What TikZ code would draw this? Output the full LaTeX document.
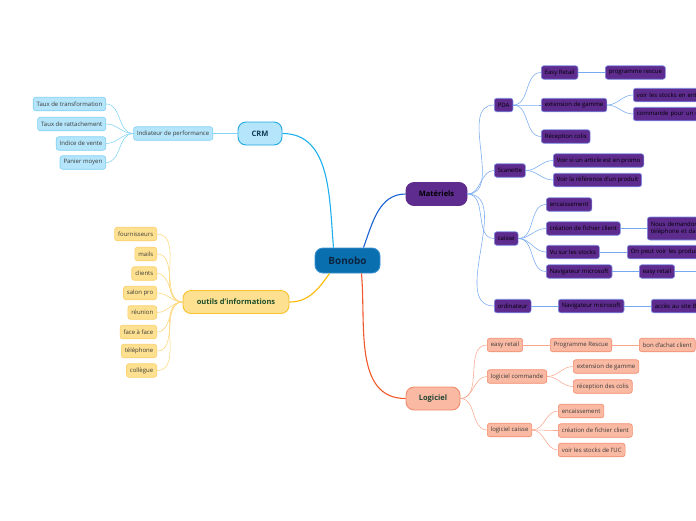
\documentclass[tikz,border=0pt]{standalone}
\usepackage{fontspec}
\setmainfont{Open Sans}
\usetikzlibrary{positioning}

\definecolor{rootfill}{HTML}{0A6FAE}
\definecolor{rootline}{HTML}{3A8FD0}
\definecolor{rootink}{HTML}{0B2540}
\definecolor{matfill}{HTML}{5E2B8E}
\definecolor{matline}{HTML}{7C8FE6}
\definecolor{matedge}{HTML}{1A62D2}
\definecolor{matsub}{HTML}{76AAF0}
\definecolor{logfill}{HTML}{F9B9A3}
\definecolor{logline}{HTML}{F28B6C}
\definecolor{logedge}{HTML}{F2592A}
\definecolor{logsub}{HTML}{F9A88E}
\definecolor{logink}{HTML}{1F4533}
\definecolor{crmfill}{HTML}{B5E5FA}
\definecolor{crmline}{HTML}{1CA9E2}
\definecolor{crmleafline}{HTML}{80D0F5}
\definecolor{crmedge}{HTML}{1CB0EC}
\definecolor{crmsub}{HTML}{80D4F4}
\definecolor{crmink}{HTML}{0D3B55}
\definecolor{infofill}{HTML}{FEE190}
\definecolor{infoline}{HTML}{F9C12E}
\definecolor{infoleafline}{HTML}{FBD06A}
\definecolor{infoedge}{HTML}{F9B800}
\definecolor{infosub}{HTML}{FCD77A}
\definecolor{infoink}{HTML}{1E4D2B}
\definecolor{leafink}{HTML}{3A3A3A}

\begin{document}
\begin{tikzpicture}[x=1pt, y=1pt,
  box/.style={rounded corners=2.5pt, line width=0.6pt, inner xsep=3.5pt, inner ysep=0pt,
    minimum height=13.5pt, font=\fontsize{6}{7}\selectfont},
  matleaf/.style={box, fill=matfill, draw=matline, text=black},
  logleaf/.style={box, fill=logfill, draw=logline, text=leafink},
  crmleaf/.style={box, fill=crmfill, draw=crmleafline, text=leafink},
  infoleaf/.style={box, fill=infofill, draw=infoleafline, text=leafink},
  cutoff/.style={text width=#1, align=left},
  topic/.style={rounded corners=8pt, line width=0.9pt, inner ysep=0pt, minimum height=23pt,
    font=\fontsize{7.5}{9}\selectfont\bfseries},
  mainedge/.style={line width=1.1pt},
  subedge/.style={line width=0.55pt}]
\useasboundingbox (0,0) rectangle (696,-520);
\clip (0,0) rectangle (696,-520);

% centre and main topics
\node[topic, fill=rootfill, draw=rootline, text=rootink, minimum width=65pt, minimum height=25pt,
  font=\fontsize{10}{12}\selectfont\bfseries] (bonobo) at (347.5,-260.5) {Bonobo};
\node[topic, fill=matfill, draw=matfill, text=black, minimum width=61pt] (mat) at (436.5,-194) {Matériels};
\node[topic, fill=logfill, draw=logline, text=logink, minimum width=54pt] (log) at (433,-398.5) {Logiciel};
\node[topic, fill=crmfill, draw=crmline, text=crmink, minimum width=44pt] (crm) at (260,-133.5) {CRM};
\node[topic, fill=infofill, draw=infoline, text=infoink, minimum width=106pt] (info) at (236,-302) {outils d'informations};

\draw[mainedge, crmedge] ([xshift=-14pt]bonobo.north) to[out=95,in=0] (crm.east);
\draw[mainedge, matedge] ([xshift=16pt]bonobo.north) to[out=70,in=180] (mat.west);
\draw[mainedge, logedge] ([xshift=14pt]bonobo.south) to[out=-85,in=180] (log.west);
\draw[mainedge, infoedge] ([xshift=-18pt]bonobo.south) to[out=-125,in=0] (info.east);

% Matériels
\node[matleaf, anchor=west] (pda) at (494,-105) {PDA};
\node[matleaf, anchor=west] (scan) at (494,-170.5) {Scanette};
\node[matleaf, anchor=west] (caisse) at (494,-238.5) {caisse};
\node[matleaf, anchor=west] (ordi) at (494,-306) {ordinateur};

\node[matleaf, anchor=west] (easyr) at (541,-72.5) {Easy Retail};
\node[matleaf, anchor=west] (rescue) at (605,-72.5) {programme rescue};
\node[matleaf, anchor=west] (extpda) at (541,-105) {extension de gamme};
\node[matleaf, anchor=west, cutoff=80pt] (stockpda) at (633,-95) {voir les stocks en ent};
\node[matleaf, anchor=west, cutoff=80pt] (cmdpda) at (633,-114) {commande pour un c};
\node[matleaf, anchor=west] (recpda) at (541,-136.5) {Réception colis};

\node[matleaf, anchor=west] (promo) at (553,-160.5) {Voir si un article est en promo};
\node[matleaf, anchor=west] (refprod) at (553,-180) {Voir la référence d'un produit};

\node[matleaf, anchor=west] (encmat) at (546,-204.5) {encaissement};
\node[matleaf, anchor=west] (fichmat) at (546,-228.5) {création de fichier client};
\node[matleaf, anchor=west, cutoff=80pt, minimum height=23pt, font=\fontsize{6}{7.5}\selectfont] (nous) at (647,-228.5) {Nous demandons\\téléphone et da};
\node[matleaf, anchor=west] (vustock) at (546,-252) {Vu sur les stocks};
\node[matleaf, anchor=west, cutoff=80pt] (onpeut) at (627,-252) {On peut voir les produits};
\node[matleaf, anchor=west] (navcaisse) at (546,-271.5) {Navigateur microsoft};
\node[matleaf, anchor=west] (easycaisse) at (639,-271.5) {easy retail};
\coordinate (offedge) at (710,-271.5);
\node[matleaf, anchor=west] (navordi) at (558,-306) {Navigateur microsoft};
\node[matleaf, anchor=west, cutoff=80pt] (acces) at (651,-306) {accès au site B};

\begin{scope}[subedge, matsub]
\foreach \c in {pda,scan,caisse,ordi}
  \draw (mat.east) to[out=0,in=180] (\c.west);
\foreach \c in {easyr,extpda,recpda}
  \draw (pda.east) to[out=0,in=180] (\c.west);
\draw (easyr.east) -- (rescue.west);
\foreach \c in {stockpda,cmdpda}
  \draw (extpda.east) to[out=0,in=180] (\c.west);
\foreach \c in {promo,refprod}
  \draw (scan.east) to[out=0,in=180] (\c.west);
\foreach \c in {encmat,fichmat,vustock,navcaisse}
  \draw (caisse.east) to[out=0,in=180] (\c.west);
\draw (fichmat.east) -- (nous.west);
\draw (vustock.east) -- (onpeut.west);
\draw (navcaisse.east) -- (easycaisse.west);
\draw (easycaisse.east) -- (offedge);
\draw (ordi.east) -- (navordi.west);
\draw (navordi.east) -- (acces.west);
\end{scope}

% Logiciel
\node[logleaf, anchor=west] (easylog) at (487,-345) {easy retail};
\node[logleaf, anchor=west] (proglog) at (550,-345) {Programme Rescue};
\node[logleaf, anchor=west] (bon) at (639,-345) {bon d'achat client};
\node[logleaf, anchor=west] (cmdlog) at (487,-376.5) {logiciel commande};
\node[logleaf, anchor=west] (extlog) at (573,-366.5) {extension de gamme};
\node[logleaf, anchor=west] (reclog) at (573,-386.5) {réception des colis};
\node[logleaf, anchor=west] (caislog) at (487,-430) {logiciel caisse};
\node[logleaf, anchor=west] (enclog) at (558,-411) {encaissement};
\node[logleaf, anchor=west] (fichlog) at (558,-430.5) {création de fichier client};
\node[logleaf, anchor=west] (stocklog) at (558,-450) {voir les stocks de l'UC};

\begin{scope}[subedge, logsub]
\foreach \c in {easylog,cmdlog,caislog}
  \draw (log.east) to[out=0,in=180] (\c.west);
\draw (easylog.east) -- (proglog.west);
\draw (proglog.east) -- (bon.west);
\foreach \c in {extlog,reclog}
  \draw (cmdlog.east) to[out=0,in=180] (\c.west);
\foreach \c in {enclog,fichlog,stocklog}
  \draw (caislog.east) to[out=0,in=180] (\c.west);
\end{scope}

% CRM
\node[crmleaf, anchor=east] (indic) at (213,-133.5) {Indiateur de performance};
\node[crmleaf, anchor=east] (tauxtr) at (106,-104) {Taux de transformation};
\node[crmleaf, anchor=east] (tauxra) at (106,-124) {Taux de rattachement};
\node[crmleaf, anchor=east] (indice) at (106,-143.5) {Indice de vente};
\node[crmleaf, anchor=east] (panier) at (106,-162.5) {Panier moyen};

\begin{scope}[subedge, crmsub]
\draw (crm.west) -- (indic.east);
\foreach \c in {tauxtr,tauxra,indice,panier}
  \draw (indic.west) to[out=180,in=0] (\c.east);
\end{scope}

% outils d'informations
\node[infoleaf, anchor=east] (fourn) at (157,-234) {fournisseurs};
\node[infoleaf, anchor=east] (mails) at (157,-254) {mails};
\node[infoleaf, anchor=east] (clients) at (157,-273.5) {clients};
\node[infoleaf, anchor=east] (salon) at (157,-293) {salon pro};
\node[infoleaf, anchor=east] (reunion) at (157,-312.5) {réunion};
\node[infoleaf, anchor=east] (face) at (157,-332) {face à face};
\node[infoleaf, anchor=east] (tel) at (157,-351) {téléphone};
\node[infoleaf, anchor=east] (coll) at (157,-370.5) {collègue};

\begin{scope}[subedge, infosub]
\foreach \c in {fourn,mails,clients,salon,reunion,face,tel,coll}
  \draw (info.west) to[out=180,in=0] (\c.east);
\end{scope}
\end{tikzpicture}
\end{document}
